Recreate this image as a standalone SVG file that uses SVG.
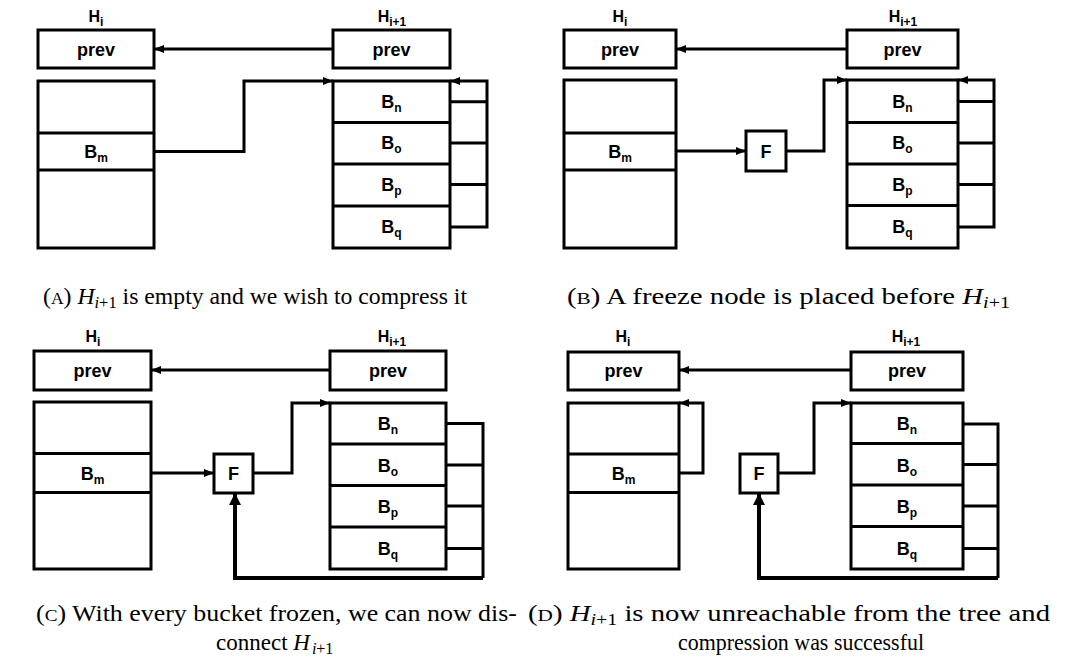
<svg xmlns="http://www.w3.org/2000/svg" width="1066" height="661" viewBox="0 0 1066 661">
<defs>
<marker id="ah" viewBox="0 0 10 8" refX="10" refY="4" markerWidth="10" markerHeight="8" markerUnits="userSpaceOnUse" orient="auto"><path d="M0,0 L10,4 L0,8 Z" fill="#000"/></marker>
<marker id="ahb" viewBox="0 0 12 12" refX="12" refY="6" markerWidth="12" markerHeight="12" markerUnits="userSpaceOnUse" orient="auto"><path d="M0,0 L12,6 L0,12 Z" fill="#000"/></marker>
</defs>
<style>
.b{fill:#fff;stroke:#000;stroke-width:3}
.d{stroke:#000;stroke-width:3;fill:none}
.c{stroke:#000;stroke-width:3;fill:none}
.ct{stroke:#000;stroke-width:4;fill:none}
.t{font-family:"Liberation Sans",Arial,sans-serif;font-weight:bold;font-size:18px;fill:#000;text-anchor:middle}
.h{font-family:"Liberation Sans",Arial,sans-serif;font-weight:bold;font-size:16px;fill:#000;text-anchor:middle}
.s{font-size:12px}
.cap{font-family:"Liberation Serif","Times New Roman",serif;fill:#000}
.m{font-style:italic}
</style>
<rect width="1066" height="661" fill="#fff"/>

<!-- Panel A -->
<g id="a-hi-head">
<text class="h" x="96" y="22">H<tspan class="s" dy="4">i</tspan></text>
<rect class="b" x="38" y="30" width="116" height="38"/>
<text class="t" x="96" y="56">prev</text>
</g>
<g id="a-hi1-head">
<text class="h" x="392" y="22">H<tspan class="s" dy="4">i+1</tspan></text>
<rect class="b" x="333" y="30" width="117" height="38"/>
<text class="t" x="391.5" y="56">prev</text>
</g>
<g id="a-hi-table">
<rect class="b" x="38" y="81" width="116" height="167"/>
<path class="d" d="M38,133H154M38,170H154"/>
<text class="t" x="96" y="158">B<tspan class="s" dy="4">m</tspan></text>
</g>
<g id="a-hi1-table">
<rect class="b" x="333" y="81" width="117" height="167"/>
<path class="d" d="M333,122.5H450M333,164H450M333,206H450"/>
<text class="t" x="391.5" y="108">B<tspan class="s" dy="4">n</tspan></text>
<text class="t" x="391.5" y="149">B<tspan class="s" dy="4">o</tspan></text>
<text class="t" x="391.5" y="191">B<tspan class="s" dy="4">p</tspan></text>
<text class="t" x="391.5" y="233">B<tspan class="s" dy="4">q</tspan></text>
</g>

<!-- Panel B -->
<g id="b-hi-head">
<text class="h" x="620" y="22">H<tspan class="s" dy="4">i</tspan></text>
<rect class="b" x="564" y="30" width="112" height="38"/>
<text class="t" x="620" y="56">prev</text>
</g>
<g id="b-hi1-head">
<text class="h" x="903" y="22">H<tspan class="s" dy="4">i+1</tspan></text>
<rect class="b" x="847" y="30" width="111" height="38"/>
<text class="t" x="902.5" y="56">prev</text>
</g>
<g id="b-hi-table">
<rect class="b" x="564" y="80" width="112" height="168"/>
<path class="d" d="M564,133H676M564,170H676"/>
<text class="t" x="620" y="158">B<tspan class="s" dy="4">m</tspan></text>
</g>
<g id="b-hi1-table">
<rect class="b" x="847" y="80" width="111" height="168"/>
<path class="d" d="M847,122.5H958M847,164H958M847,205.5H958"/>
<text class="t" x="902.5" y="108">B<tspan class="s" dy="4">n</tspan></text>
<text class="t" x="902.5" y="149">B<tspan class="s" dy="4">o</tspan></text>
<text class="t" x="902.5" y="191">B<tspan class="s" dy="4">p</tspan></text>
<text class="t" x="902.5" y="233">B<tspan class="s" dy="4">q</tspan></text>
</g>
<g id="b-freeze">
<rect class="b" x="746" y="131" width="40" height="40"/>
<text class="t" x="766" y="158">F</text>
</g>

<!-- Panel C -->
<g id="c-hi-head">
<text class="h" x="93" y="342">H<tspan class="s" dy="4">i</tspan></text>
<rect class="b" x="34" y="351" width="117" height="39"/>
<text class="t" x="92.5" y="377">prev</text>
</g>
<g id="c-hi1-head">
<text class="h" x="392" y="342">H<tspan class="s" dy="4">i+1</tspan></text>
<rect class="b" x="330" y="351" width="116" height="39"/>
<text class="t" x="388" y="377">prev</text>
</g>
<g id="c-hi-table">
<rect class="b" x="34" y="402" width="117" height="167"/>
<path class="d" d="M34,453.5H151M34,492.5H151"/>
<text class="t" x="92.5" y="480">B<tspan class="s" dy="4">m</tspan></text>
</g>
<g id="c-hi1-table">
<rect class="b" x="330" y="403" width="116" height="166"/>
<path class="d" d="M330,444H446M330,485.5H446M330,527H446"/>
<text class="t" x="388" y="430">B<tspan class="s" dy="4">n</tspan></text>
<text class="t" x="388" y="472">B<tspan class="s" dy="4">o</tspan></text>
<text class="t" x="388" y="513">B<tspan class="s" dy="4">p</tspan></text>
<text class="t" x="388" y="555">B<tspan class="s" dy="4">q</tspan></text>
</g>
<g id="c-freeze">
<rect class="b" x="214" y="454" width="39" height="39"/>
<text class="t" x="233.5" y="480">F</text>
</g>

<!-- Panel D -->
<g id="d-hi-head">
<text class="h" x="623" y="342">H<tspan class="s" dy="4">i</tspan></text>
<rect class="b" x="568" y="352" width="111" height="38"/>
<text class="t" x="623.5" y="377">prev</text>
</g>
<g id="d-hi1-head">
<text class="h" x="906" y="342">H<tspan class="s" dy="4">i+1</tspan></text>
<rect class="b" x="851" y="352" width="112" height="38"/>
<text class="t" x="907" y="377">prev</text>
</g>
<g id="d-hi-table">
<rect class="b" x="568" y="403" width="111" height="166"/>
<path class="d" d="M568,454H679M568,492.5H679"/>
<text class="t" x="623.5" y="480">B<tspan class="s" dy="4">m</tspan></text>
</g>
<g id="d-hi1-table">
<rect class="b" x="851" y="403" width="112" height="166"/>
<path class="d" d="M851,443.5H963M851,485H963M851,526.5H963"/>
<text class="t" x="907" y="430">B<tspan class="s" dy="4">n</tspan></text>
<text class="t" x="907" y="472">B<tspan class="s" dy="4">o</tspan></text>
<text class="t" x="907" y="513">B<tspan class="s" dy="4">p</tspan></text>
<text class="t" x="907" y="555">B<tspan class="s" dy="4">q</tspan></text>
</g>
<g id="d-freeze">
<rect class="b" x="740" y="454" width="38" height="39"/>
<text class="t" x="759" y="480">F</text>
</g>

<g id="connectors">
<!-- A -->
<path class="c" d="M333,49H154" marker-end="url(#ah)"/>
<path class="c" d="M154,151.5H244V81H333" marker-end="url(#ah)"/>
<path class="c" d="M450,227H487V81H450" marker-end="url(#ah)"/>
<path class="c" d="M450,101.7H487M450,143H487M450,184.5H487"/>
<!-- B -->
<path class="c" d="M847,49H676" marker-end="url(#ah)"/>
<path class="c" d="M676,151H746" marker-end="url(#ah)"/>
<path class="c" d="M786,151H824V80H847" marker-end="url(#ah)"/>
<path class="c" d="M958,227H994V80H958" marker-end="url(#ah)"/>
<path class="c" d="M958,101.5H994M958,143H994M958,184.5H994"/>
<!-- C -->
<path class="c" d="M330,370H151" marker-end="url(#ah)"/>
<path class="c" d="M151,473H214" marker-end="url(#ah)"/>
<path class="c" d="M253,473H292V403H330" marker-end="url(#ah)"/>
<path class="c" d="M446,423.5H483V578M446,465H483M446,506H483M446,548.5H483"/>
<path class="ct" d="M483,578H235V493" marker-end="url(#ahb)"/>
<!-- D -->
<path class="c" d="M851,370H679" marker-end="url(#ah)"/>
<path class="c" d="M679,473H703V403H679" marker-end="url(#ah)"/>
<path class="c" d="M778,473H814V403H851" marker-end="url(#ah)"/>
<path class="c" d="M963,424H998V578M963,464.5H998M963,506H998M963,548.5H998"/>
<path class="ct" d="M998,578H759V493" marker-end="url(#ahb)"/>
</g>

<g id="captions">
<text class="cap" x="43" y="304" font-size="23" textLength="424" lengthAdjust="spacingAndGlyphs">(<tspan font-size="17">A</tspan>) <tspan class="m">H</tspan><tspan class="m" font-size="16" dy="4">i</tspan><tspan font-size="16">+1</tspan><tspan dy="-4"> is empty and we wish to compress it</tspan></text>
<text class="cap" x="567" y="304" font-size="23" textLength="443" lengthAdjust="spacingAndGlyphs">(<tspan font-size="17">B</tspan>) A freeze node is placed before <tspan class="m">H</tspan><tspan class="m" font-size="16" dy="4">i</tspan><tspan font-size="16">+1</tspan></text>
<text class="cap" x="36" y="621" font-size="23" textLength="481" lengthAdjust="spacingAndGlyphs">(<tspan font-size="17">C</tspan>) With every bucket frozen, we can now dis-</text>
<text class="cap" x="216" y="650" font-size="23">connect <tspan class="m">H</tspan><tspan class="m" font-size="16" dx="2" dy="4">i</tspan><tspan font-size="16">+1</tspan></text>
<text class="cap" x="528" y="621" font-size="23" textLength="522" lengthAdjust="spacingAndGlyphs">(<tspan font-size="17">D</tspan>) <tspan class="m">H</tspan><tspan class="m" font-size="16" dy="4">i</tspan><tspan font-size="16">+1</tspan><tspan dy="-4"> is now unreachable from the tree and</tspan></text>
<text class="cap" x="678" y="650" font-size="23" textLength="246" lengthAdjust="spacingAndGlyphs">compression was successful</text>
</g>
</svg>
